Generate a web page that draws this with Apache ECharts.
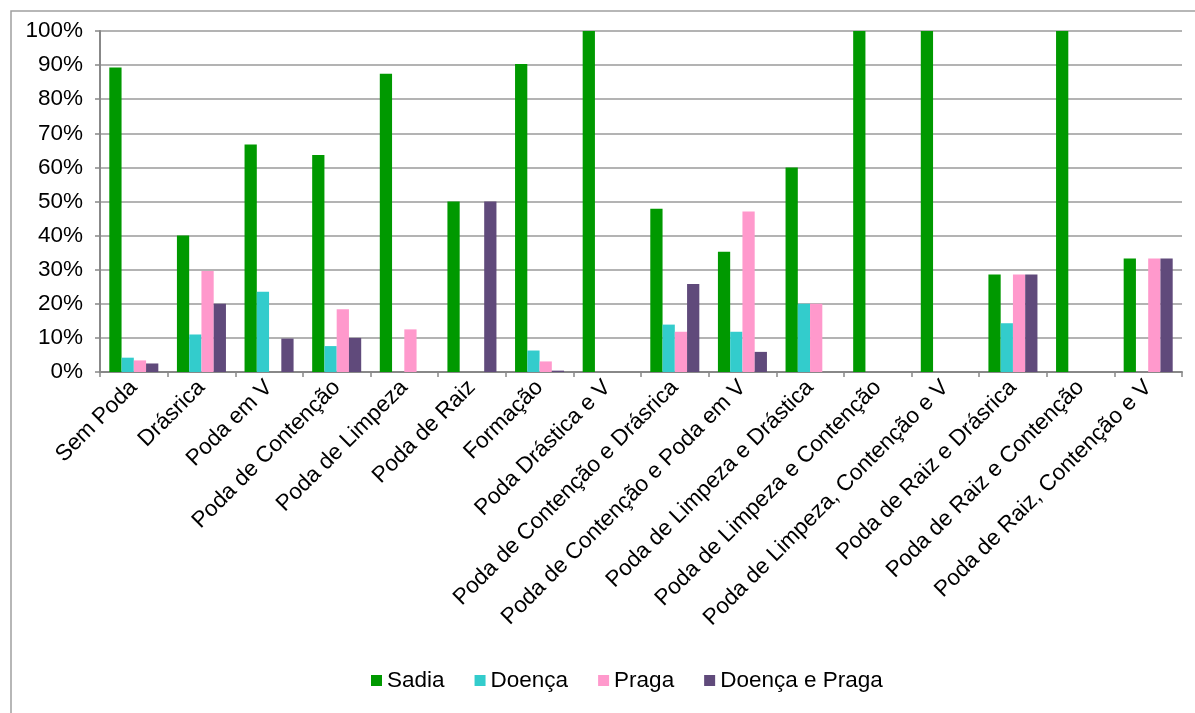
<!DOCTYPE html>
<html>
<head>
<meta charset="utf-8">
<script src="https://cdn.jsdelivr.net/npm/echarts@6/dist/echarts.min.js"></script>
<style>
html,body{margin:0;padding:0;background:#fff;}
#chart{width:1195px;height:713px;}
</style>
</head>
<body>
<div id="chart"></div>
<script>
var categories = ["Sem Poda","Drásrica","Poda em V","Poda de Contenção","Poda de Limpeza","Poda de Raiz","Formação","Poda Drástica e V","Poda de Contenção e Drásrica","Poda de Contenção e Poda em V","Poda de Limpeza e Drástica","Poda de Limpeza e Contenção","Poda de Limpeza, Contenção e V","Poda de Raiz e Drásrica","Poda de Raiz e Contenção","Poda de Raiz, Contenção e V"];
var seriesNames = ["Sadia","Doença","Praga","Doença e Praga"];
var sadia = [89.3,40,66.7,63.6,87.5,50,90.3,100,47.9,35.3,60,100,100,28.6,100,33.3];
var doenca = [4.2,11,23.5,7.6,0,0,6.3,0,13.9,11.8,20,0,0,14.3,0,0];
var praga = [3.4,29.6,0,18.4,12.5,0,3.1,0,11.8,47.1,20,0,0,28.6,0,33.3];
var doencaPraga = [2.5,20,9.8,10,0,50,0.4,0,25.8,5.9,0,0,0,28.6,0,33.3];
var yTicks = [0,10,20,30,40,50,60,70,80,90,100];

var colors = ["#009900","#33CCCC","#FF99CC","#604A7B"];
var font = "'Liberation Sans', Arial, Helvetica, sans-serif";
var dataSets = [sadia, doenca, praga, doencaPraga];

var chart = echarts.init(document.getElementById('chart'), null, {renderer:'canvas'});
var series = dataSets.map(function(d, i){
  return {
    name: seriesNames[i],
    type: 'bar',
    data: d,
    barGap: '0%',
    barCategoryGap: '27.5%',
    itemStyle: {color: colors[i]},
    emphasis: {disabled: true}
  };
});
chart.setOption({
  animation: false,
  color: colors,
  textStyle: {fontFamily: font},
  graphic: [{
    type: 'rect',
    shape: {x: 11, y: 11, width: 1250, height: 760},
    style: {fill: 'none', stroke: '#a0a0a0', lineWidth: 1.5},
    silent: true
  }],
  grid: {left: 100, right: 13, top: 31, bottom: 341, containLabel: false},
  legend: {
    data: seriesNames,
    left: 366,
    top: 664,
    icon: 'rect',
    itemWidth: 11,
    itemHeight: 11,
    itemGap: 30,
    textStyle: {fontSize: 22.5, color: '#000', fontFamily: font}
  },
  xAxis: {
    type: 'category',
    data: categories,
    axisLine: {lineStyle: {color: '#888', width: 2}},
    axisTick: {show: true, length: 5, lineStyle: {color: '#888', width: 1.5}},
    axisLabel: {rotate: 45, interval: 0, fontSize: 22.5, color: '#000', fontFamily: font, margin: 12},
    splitLine: {show: false}
  },
  yAxis: {
    type: 'value',
    min: 0,
    max: 100,
    interval: 10,
    axisLine: {show: true, lineStyle: {color: '#888', width: 2}},
    axisTick: {show: true, length: 5, lineStyle: {color: '#888', width: 1.5}},
    axisLabel: {fontSize: 22.5, color: '#000', fontFamily: font, margin: 17,
      formatter: function(v){ return yTicks.indexOf(v) >= 0 ? v + '%' : ''; }},
    splitLine: {lineStyle: {color: '#9a9a9a', width: 1.5}}
  },
  series: series
});
</script>
</body>
</html>
